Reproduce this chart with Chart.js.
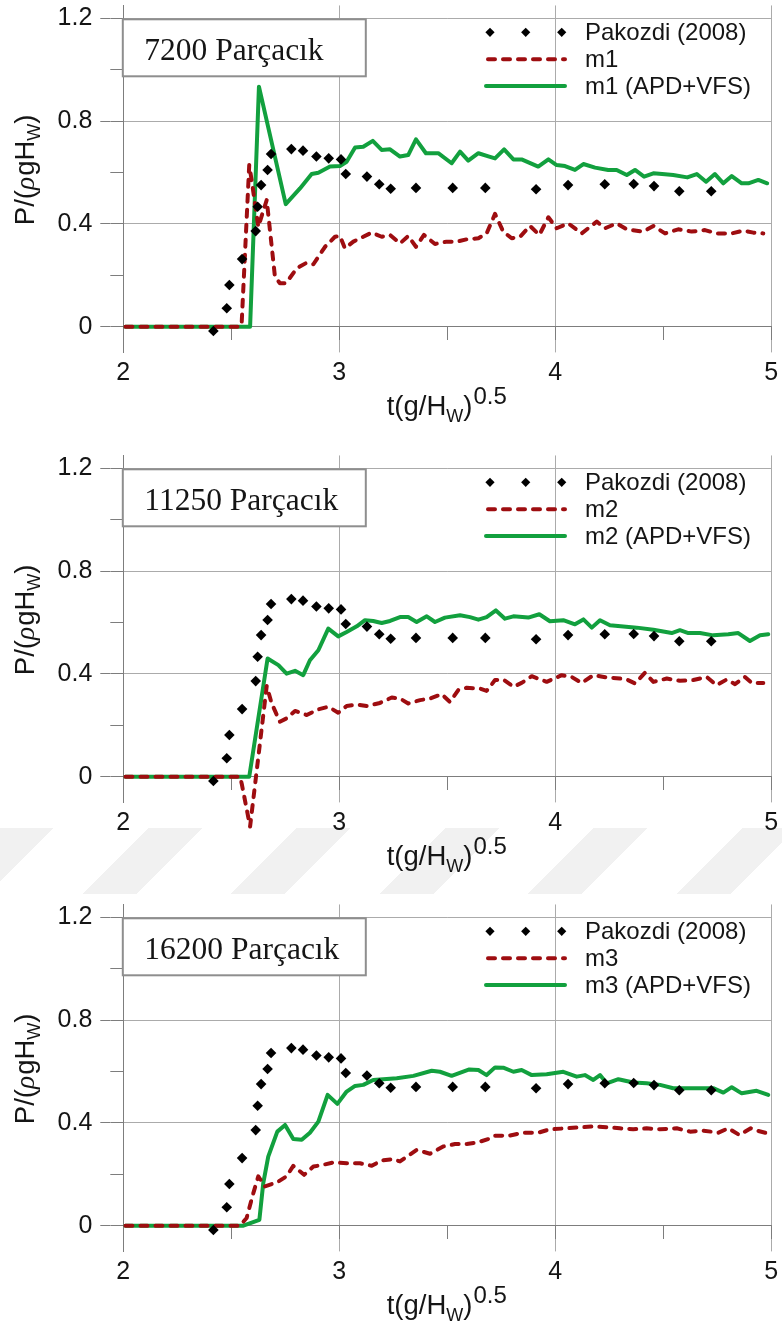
<!DOCTYPE html>
<html><head><meta charset="utf-8">
<script src="https://cdn.jsdelivr.net/npm/chart.js@4.4.1/dist/chart.umd.min.js"></script>
<style>
html,body{margin:0;padding:0;background:#fff;width:782px;height:1329px;overflow:hidden;position:relative;}
.wrap{position:absolute;left:0;width:782px;}
canvas{display:block;}
.band{position:absolute;left:0;top:828px;width:782px;height:66px;
  background:repeating-linear-gradient(135deg,#f1f1f1 0 38px,rgba(255,255,255,0) 38px 105px);}
</style></head><body>
<div class="band"></div>
<div class="wrap" style="top:0;height:450px"><canvas id="c1" width="782" height="450"></canvas></div>
<div class="wrap" style="top:450px;height:450px"><canvas id="c2" width="782" height="450"></canvas></div>
<div class="wrap" style="top:899px;height:430px"><canvas id="c3" width="782" height="430"></canvas></div>
<script>
// ---------- data ----------
const xTicks = [2, 2.5, 3, 3.5, 4, 4.5, 5];
const xTickLabels = ['2', '', '3', '', '4', '', '5'];
const yTicks = [0, 0.4, 0.8, 1.2];
const yTickLabels = ['0', '0.4', '0.8', '1.2'];
const yMinorTicks = [0, 0.2, 0.4, 0.6, 0.8, 1.0, 1.2];
const panelTitles = ['7200 Parçacık', '11250 Parçacık', '16200 Parçacık'];
const expName = 'Pakozdi (2008)';
const modelNames = ['m1', 'm2', 'm3'];
const modelNamesAV = ['m1 (APD+VFS)', 'm2 (APD+VFS)', 'm3 (APD+VFS)'];

const pakozdiX = [2.417, 2.479, 2.491, 2.550, 2.613, 2.622, 2.638, 2.668, 2.684, 2.778, 2.832, 2.894, 2.951, 3.008, 3.030, 3.128, 3.185, 3.238, 3.355, 3.525, 3.676, 3.911, 4.059, 4.229, 4.363, 4.457, 4.574, 4.722];
const pakozdiY = [-0.017, 0.072, 0.162, 0.263, 0.372, 0.467, 0.551, 0.610, 0.672, 0.691, 0.685, 0.662, 0.655, 0.651, 0.594, 0.584, 0.554, 0.537, 0.540, 0.540, 0.540, 0.535, 0.551, 0.554, 0.555, 0.547, 0.527, 0.527];

const m1X = [2.01, 2.540, 2.548, 2.583, 2.594, 2.625, 2.664, 2.702, 2.725, 2.753, 2.803, 2.849, 2.880, 2.934, 2.980, 3.003, 3.026, 3.065, 3.111, 3.150, 3.196, 3.235, 3.281, 3.319, 3.355, 3.392, 3.443, 3.497, 3.544, 3.590, 3.644, 3.682, 3.721, 3.759, 3.798, 3.837, 3.883, 3.926, 3.968, 4.006, 4.060, 4.122, 4.192, 4.230, 4.284, 4.331, 4.407, 4.454, 4.508, 4.569, 4.631, 4.693, 4.747, 4.817, 4.870, 4.917, 4.963];
const m1Y = [0, 0, 0.013, 0.629, 0.571, 0.389, 0.493, 0.195, 0.169, 0.169, 0.227, 0.249, 0.243, 0.311, 0.350, 0.353, 0.305, 0.331, 0.350, 0.366, 0.350, 0.357, 0.324, 0.353, 0.311, 0.357, 0.322, 0.331, 0.331, 0.340, 0.344, 0.363, 0.439, 0.370, 0.344, 0.350, 0.392, 0.357, 0.426, 0.383, 0.402, 0.363, 0.409, 0.383, 0.402, 0.379, 0.370, 0.392, 0.363, 0.379, 0.370, 0.376, 0.363, 0.363, 0.374, 0.366, 0.363];

const m1avX = [2.01, 2.587, 2.628, 2.752, 2.818, 2.872, 2.903, 2.957, 3.003, 3.034, 3.073, 3.111, 3.155, 3.196, 3.235, 3.281, 3.319, 3.355, 3.401, 3.458, 3.520, 3.559, 3.597, 3.644, 3.694, 3.721, 3.763, 3.806, 3.844, 3.921, 3.968, 4.006, 4.045, 4.091, 4.130, 4.184, 4.245, 4.284, 4.331, 4.369, 4.411, 4.454, 4.508, 4.546, 4.611, 4.655, 4.698, 4.739, 4.778, 4.817, 4.863, 4.894, 4.940, 4.981];
const m1avY = [0, 0, 0.934, 0.477, 0.538, 0.594, 0.599, 0.623, 0.625, 0.642, 0.697, 0.700, 0.723, 0.688, 0.690, 0.662, 0.668, 0.729, 0.675, 0.675, 0.636, 0.681, 0.646, 0.675, 0.662, 0.655, 0.690, 0.651, 0.651, 0.623, 0.651, 0.629, 0.625, 0.610, 0.633, 0.619, 0.610, 0.610, 0.590, 0.610, 0.584, 0.597, 0.593, 0.590, 0.581, 0.594, 0.564, 0.594, 0.558, 0.586, 0.558, 0.558, 0.571, 0.558];

const m2X = [2.01, 2.540, 2.548, 2.587, 2.664, 2.687, 2.725, 2.756, 2.795, 2.849, 2.903, 2.949, 2.995, 3.034, 3.081, 3.127, 3.188, 3.243, 3.281, 3.319, 3.374, 3.420, 3.474, 3.512, 3.551, 3.590, 3.651, 3.682, 3.721, 3.759, 3.806, 3.844, 3.891, 3.960, 4.030, 4.076, 4.122, 4.176, 4.238, 4.299, 4.331, 4.369, 4.415, 4.454, 4.516, 4.577, 4.639, 4.701, 4.747, 4.793, 4.832, 4.878, 4.909, 4.963];
const m2Y = [0, 0, -0.026, -0.194, 0.353, 0.285, 0.214, 0.227, 0.256, 0.240, 0.262, 0.272, 0.249, 0.275, 0.281, 0.275, 0.287, 0.308, 0.304, 0.285, 0.298, 0.304, 0.321, 0.291, 0.337, 0.346, 0.343, 0.334, 0.376, 0.378, 0.350, 0.365, 0.391, 0.369, 0.395, 0.388, 0.365, 0.395, 0.386, 0.382, 0.378, 0.363, 0.404, 0.369, 0.382, 0.373, 0.376, 0.388, 0.356, 0.378, 0.360, 0.388, 0.365, 0.365];

const m2avX = [2.01, 2.583, 2.668, 2.718, 2.756, 2.795, 2.833, 2.864, 2.903, 2.949, 2.995, 3.034, 3.081, 3.119, 3.157, 3.196, 3.235, 3.281, 3.319, 3.358, 3.405, 3.443, 3.489, 3.559, 3.605, 3.644, 3.682, 3.725, 3.767, 3.806, 3.875, 3.926, 3.975, 4.037, 4.091, 4.130, 4.169, 4.207, 4.253, 4.377, 4.454, 4.539, 4.577, 4.616, 4.670, 4.731, 4.801, 4.847, 4.901, 4.948, 4.986];
const m2avY = [0, 0, 0.460, 0.434, 0.401, 0.412, 0.395, 0.453, 0.492, 0.576, 0.546, 0.563, 0.585, 0.609, 0.606, 0.598, 0.606, 0.621, 0.621, 0.602, 0.624, 0.602, 0.619, 0.628, 0.621, 0.611, 0.621, 0.647, 0.615, 0.624, 0.619, 0.632, 0.605, 0.609, 0.593, 0.612, 0.580, 0.609, 0.589, 0.580, 0.572, 0.559, 0.570, 0.559, 0.559, 0.550, 0.554, 0.559, 0.528, 0.550, 0.554];

const m3X = [2.01, 2.540, 2.571, 2.602, 2.625, 2.656, 2.710, 2.756, 2.787, 2.837, 2.880, 2.926, 2.972, 3.034, 3.096, 3.150, 3.196, 3.250, 3.281, 3.358, 3.420, 3.481, 3.536, 3.590, 3.636, 3.694, 3.721, 3.790, 3.852, 3.921, 3.975, 4.053, 4.114, 4.176, 4.238, 4.299, 4.361, 4.423, 4.485, 4.562, 4.624, 4.685, 4.755, 4.801, 4.852, 4.905, 4.932, 4.981];
const m3Y = [0, 0, 0.030, 0.127, 0.192, 0.153, 0.168, 0.192, 0.233, 0.198, 0.230, 0.237, 0.246, 0.243, 0.243, 0.233, 0.254, 0.259, 0.250, 0.295, 0.280, 0.308, 0.318, 0.318, 0.323, 0.338, 0.350, 0.351, 0.362, 0.362, 0.375, 0.379, 0.383, 0.386, 0.383, 0.379, 0.375, 0.379, 0.375, 0.379, 0.366, 0.370, 0.362, 0.379, 0.353, 0.379, 0.370, 0.360];

const m3avX = [2.01, 2.556, 2.630, 2.648, 2.671, 2.713, 2.749, 2.787, 2.826, 2.864, 2.903, 2.946, 2.991, 3.034, 3.073, 3.111, 3.157, 3.204, 3.266, 3.343, 3.428, 3.466, 3.520, 3.602, 3.644, 3.682, 3.721, 3.759, 3.806, 3.844, 3.891, 3.960, 4.037, 4.099, 4.137, 4.176, 4.207, 4.238, 4.292, 4.361, 4.423, 4.485, 4.546, 4.608, 4.731, 4.778, 4.817, 4.863, 4.932, 4.986];
const m3avY = [0, 0, 0.023, 0.166, 0.269, 0.366, 0.392, 0.337, 0.334, 0.362, 0.405, 0.509, 0.474, 0.522, 0.544, 0.548, 0.567, 0.570, 0.574, 0.583, 0.603, 0.599, 0.583, 0.608, 0.606, 0.586, 0.616, 0.615, 0.599, 0.606, 0.586, 0.589, 0.599, 0.580, 0.586, 0.567, 0.586, 0.554, 0.570, 0.557, 0.554, 0.548, 0.535, 0.535, 0.535, 0.518, 0.539, 0.515, 0.525, 0.509];

// ---------- style ----------
const RED = '#9e0d10';
const GREEN = '#12a03e';
const GRID = '#ababab';
const AXIS = '#7d7d7d';
const TXT = '#151515';
const SANS = '"Liberation Sans", Arial, Helvetica, sans-serif';
const SERIF = '"Liberation Serif", "Times New Roman", serif';

function zip(xs, ys) { return xs.map((x, i) => ({ x: x, y: ys[i] })); }

const overlay = {
  id: 'overlay',
  afterDraw(chart, args, opts) {
    const ctx = chart.ctx, ca = chart.chartArea, ys = chart.scales.y;
    const z = ys.getPixelForValue(0);
    ctx.save();
    // panel label box
    const bx = ca.left - 0.5, by = ys.getPixelForValue(1.2) + 1, bw = 243, bh = 57;
    ctx.fillStyle = '#fff';
    ctx.fillRect(bx, by, bw, bh);
    ctx.strokeStyle = '#8e8e8e'; ctx.lineWidth = 2;
    ctx.strokeRect(bx, by, bw, bh);
    ctx.fillStyle = TXT;
    ctx.font = '31.5px ' + SERIF;
    ctx.textAlign = 'left'; ctx.textBaseline = 'alphabetic';
    ctx.fillText(opts.title, bx + 21.5, by + 41);

    // legend
    const ds = chart.data.datasets;
    const rows = [ca.top + 26.9, ca.top + 53.9, ca.top + 80.6];
    const sx0 = ca.left + 362.7, sx1 = ca.left + 441.7, tx = ca.left + 461.7;
    ctx.textAlign = 'left'; ctx.textBaseline = 'middle';
    ctx.font = '24px ' + SANS;
    ds.forEach((d, i) => {
      const y = rows[i];
      if (d.showLine === false) {
        ctx.fillStyle = d.pointBackgroundColor;
        [sx0 + 4, sx0 + 39.7, sx0 + 75.7].forEach(px => {
          ctx.beginPath();
          ctx.moveTo(px, y - 4.6); ctx.lineTo(px + 4.6, y); ctx.lineTo(px, y + 4.6); ctx.lineTo(px - 4.6, y);
          ctx.closePath(); ctx.fill();
        });
      } else {
        ctx.strokeStyle = d.borderColor; ctx.lineWidth = d.borderWidth;
        ctx.lineCap = d.borderCapStyle || 'butt';
        ctx.setLineDash(d.borderDash || []);
        ctx.beginPath();
        ctx.moveTo(sx0 + (d.borderDash ? 2 : 0), y); ctx.lineTo(sx1, y); ctx.stroke();
        ctx.setLineDash([]);
      }
      ctx.fillStyle = TXT;
      ctx.fillText(d.label, tx, y + 1);
    });

    // x axis title t(g/H_W)^0.5
    ctx.textAlign = 'left'; ctx.textBaseline = 'alphabetic'; ctx.fillStyle = TXT;
    let x = ca.left + 263.4;
    const base = z + 88.5;
    ctx.font = '27.5px ' + SANS;
    ctx.fillText('t(g/H', x, base); x += ctx.measureText('t(g/H').width;
    ctx.font = '18px ' + SANS;
    ctx.fillText('W', x, base + 7); x += ctx.measureText('W').width;
    ctx.font = '27.5px ' + SANS;
    ctx.fillText(')', x, base); x += ctx.measureText(')').width;
    ctx.font = '24px ' + SANS;
    ctx.fillText('0.5', x + 1, base - 11.5);

    // y axis title P/(ρgH_W)
    ctx.translate(34, z - 101.5);
    ctx.rotate(-Math.PI / 2);
    let t = 0;
    ctx.font = '27.5px ' + SANS;
    ctx.fillText('P/(', t, 0); t += ctx.measureText('P/(').width;
    ctx.font = 'italic 27.5px ' + SERIF;
    ctx.fillText('ρ', t, 0); t += ctx.measureText('ρ').width + 1;
    ctx.font = '27.5px ' + SANS;
    ctx.fillText('gH', t, 0); t += ctx.measureText('gH').width;
    ctx.font = '18px ' + SANS;
    ctx.fillText('W', t, 6); t += ctx.measureText('W').width;
    ctx.font = '27.5px ' + SANS;
    ctx.fillText(')', t, 0);
    ctx.restore();
  }
};

function makeChart(id, H, idx, redX, redY, grnX, grnY) {
  return new Chart(document.getElementById(id), {
    type: 'line',
    data: {
      datasets: [
        { label: expName, data: zip(pakozdiX, pakozdiY), showLine: false, pointStyle: 'rectRot',
          pointRadius: 5.3, pointBackgroundColor: '#000', pointBorderColor: '#000', pointBorderWidth: 0,
          borderColor: '#000', backgroundColor: '#000', clip: false },
        { label: modelNames[idx], data: zip(redX, redY), borderColor: RED, backgroundColor: RED,
          borderWidth: 4, borderDash: [7, 8], borderCapStyle: 'round', borderJoinStyle: 'round',
          pointRadius: 0, tension: 0, fill: false, clip: false },
        { label: modelNamesAV[idx], data: zip(grnX, grnY), borderColor: GREEN, backgroundColor: GREEN,
          borderWidth: 4, borderJoinStyle: 'round', borderCapStyle: 'round',
          pointRadius: 0, tension: 0, fill: false, clip: false }
      ]
    },
    options: {
      responsive: false, animation: false, devicePixelRatio: 1,
      events: [],
      layout: { autoPadding: false, padding: { left: 0, right: 10.7, top: 5.45, bottom: H - 352.4 } },
      plugins: { legend: { display: false }, tooltip: { enabled: false }, overlay: { title: panelTitles[idx] } },
      scales: {
        x: {
          type: 'linear', position: { y: 0 }, min: 2, max: 5,
          afterBuildTicks: s => { s.ticks = xTicks.map(v => ({ value: v })); },
          afterFit: s => { s.paddingLeft = 0; s.paddingRight = 0; },
          grid: { color: c => (c.tick && Number.isInteger(c.tick.value)) ? GRID : 'rgba(0,0,0,0)',
                  tickColor: AXIS, tickLength: 13, lineWidth: 1 },
          border: { color: AXIS, width: 1 },
          ticks: { padding: 18, color: TXT, font: { family: SANS, size: 25 }, maxRotation: 0, autoSkip: false,
                   callback: (v, i) => xTickLabels[i] }
        },
        y: {
          type: 'linear', position: 'left', weight: 2, min: -0.1, max: 1.25,
          afterBuildTicks: s => { s.ticks = yTicks.map(v => ({ value: v })); },
          afterFit: s => { s.width = 110.3; s.paddingTop = 0; s.paddingBottom = 0; },
          grid: { color: c => (c.tick && c.tick.value === 0) ? AXIS : GRID, tickColor: AXIS, tickLength: 10 },
          border: { display: false },
          ticks: { padding: 8, color: TXT, font: { family: SANS, size: 25 }, autoSkip: false,
                   callback: (v, i) => yTickLabels[i] }
        },
        yMinor: {
          type: 'linear', position: 'left', weight: 1, min: -0.1, max: 1.25,
          afterBuildTicks: s => { s.ticks = yMinorTicks.map(v => ({ value: v })); },
          afterFit: s => { s.width = 13; s.paddingTop = 0; s.paddingBottom = 0; },
          grid: { drawOnChartArea: false, tickColor: AXIS, tickLength: 13 },
          border: { display: true, color: AXIS, width: 1 },
          ticks: { display: false }
        }
      }
    },
    plugins: [overlay]
  });
}

makeChart('c1', 450, 0, m1X, m1Y, m1avX, m1avY);
makeChart('c2', 450, 1, m2X, m2Y, m2avX, m2avY);
makeChart('c3', 430, 2, m3X, m3Y, m3avX, m3avY);
</script>
</body></html>
